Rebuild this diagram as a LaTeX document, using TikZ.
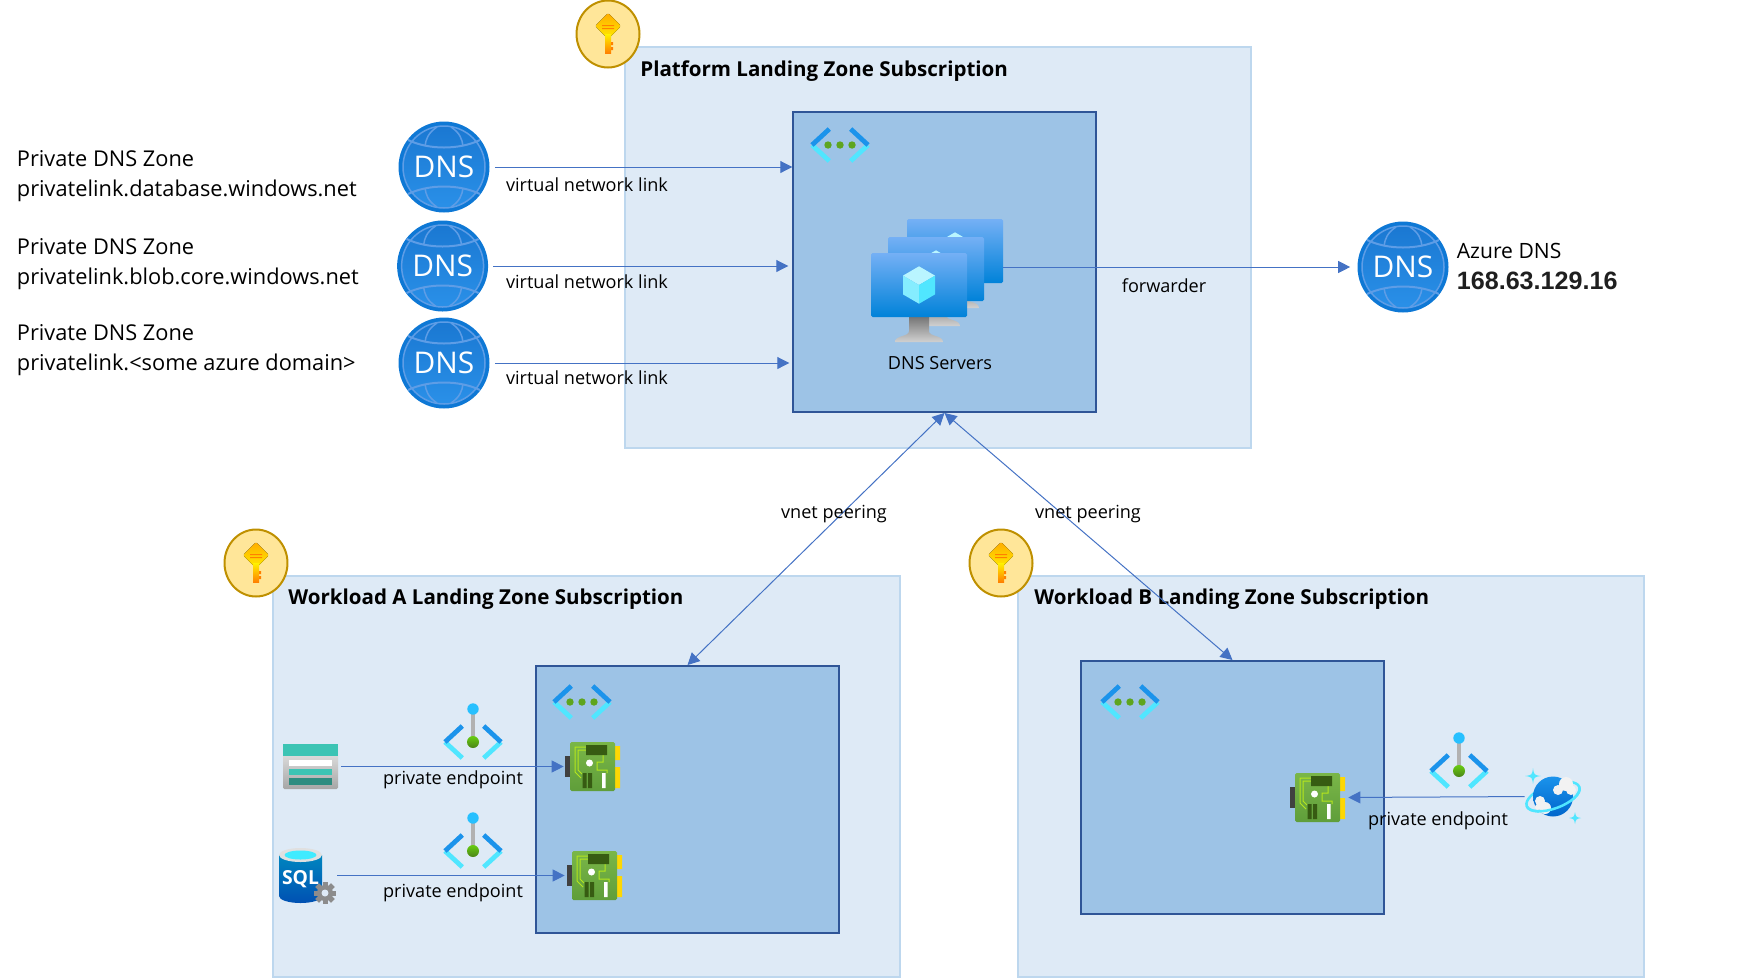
\documentclass[tikz,border=0pt]{standalone}
\usepackage{fontspec}
\setmainfont{Open Sans}
\newfontfamily\arialfont{Liberation Sans}
\usetikzlibrary{arrows.meta}
\usetikzlibrary{shapes.geometric}

\definecolor{zonefill}{HTML}{DEEAF6}
\definecolor{zoneline}{HTML}{BDD7EE}
\definecolor{vnetfill}{HTML}{9DC3E6}
\definecolor{vnetline}{HTML}{2F5597}
\definecolor{linkblue}{HTML}{4472C4}
\definecolor{azdark}{HTML}{1B93EB}
\definecolor{azlight}{HTML}{50E6FF}
\definecolor{azgreen}{HTML}{5EA51E}
\definecolor{keyfill}{HTML}{FFE699}
\definecolor{keyline}{HTML}{BF9000}
\definecolor{globering}{HTML}{0E78D5}
\definecolor{globetop}{HTML}{1A78D2}
\definecolor{globelow}{HTML}{2A90E8}
\definecolor{globeline}{HTML}{5E9DE6}
\definecolor{cardtop}{HTML}{7AB648}
\definecolor{cardlow}{HTML}{5F9E3A}
\definecolor{carddark}{HTML}{375C12}
\definecolor{cardtrace}{HTML}{B5E61D}
\definecolor{tealmid}{HTML}{3CC4B4}
\definecolor{tealdark}{HTML}{2D8C80}

% subscription key
\newcommand{\subkey}[3]{
 \begin{scope}[shift={(#2,#3)}]
  \node at (0,0) [ellipse,draw=keyline,line width=0.04cm,fill=keyfill,
   minimum width=1.26cm,minimum height=1.34cm,inner sep=0] (#1) {};
  \fill[rounded corners=0.04cm,top color=orange!65!yellow,bottom color=yellow!85!orange]
   (0,-21) -- (13,-8) -- (0,5) -- (-13,-8) -- cycle;
  \fill[top color=yellow!90!orange,bottom color=orange] (-3,0) rectangle (3,19);
  \fill[orange] (3,8) rectangle (5,11) (3,13) rectangle (5,16);
  \fill[orange] (-6,-9) rectangle (6,-8) (-6,-6) rectangle (6,-5);
 \end{scope}
}
% chevrons round a virtual network or endpoint
\newcommand{\chevrons}{
 \draw[azlight,line width=0.095cm] (-10.7,16) -- (-28,0) (10.7,16) -- (28,0);
 \draw[azdark,line width=0.095cm] (-10.7,-16) -- (-28,0) (10.7,-16) -- (28,0);
}
\newcommand{\vneticon}[2]{
 \begin{scope}[shift={(#1,#2)}]
  \chevrons
  \fill[azgreen] (-12,0) circle (3.7) (0,0) circle (3.7) (12,0) circle (3.7);
 \end{scope}
}
\newcommand{\peicon}[2]{
 \begin{scope}[shift={(#1,#2)}]
  \chevrons
  \fill[black!30] (-2,-33) rectangle (2,0);
  \fill[azlight!60!cyan!80!blue] (0,-33) circle (5.7);
  \shade[top color=azgreen!70!green!80!yellow,bottom color=azgreen!80!black] (0,0) circle (6);
 \end{scope}
}
% dns globe
\newcommand{\dnszone}[3]{
 \begin{scope}[shift={(#2,#3)}]
  \fill[globering] (0,0) circle (45.5);
  \shade[top color=globetop,bottom color=globelow] (0,0) circle (41);
  \draw[globeline,line width=0.03cm] (0,0) circle (41);
  \foreach \s in {-1,1} {
   \draw[globeline,line width=0.04cm] (-36,\s*27) .. controls (-15,\s*17) and (15,\s*17) .. (36,\s*27);
   \draw[globeline,line width=0.03cm] (-7,\s*40) .. controls (-16,\s*34) and (-18,\s*28) .. (-19,\s*21);
   \draw[globeline,line width=0.03cm] (7,\s*40) .. controls (16,\s*34) and (18,\s*28) .. (19,\s*21);
  }
  \node at (0,0) [circle,minimum size=1.82cm,inner sep=0,text=white,font=\fontsize{17}{19}\selectfont] (#1) {DNS};
 \end{scope}
}
% one screen of the dns servers
\newcommand{\vmscreen}[3]{
 \begin{scope}[shift={(#2,#3)}]
  \shade[top color=black!55,bottom color=black!18]
   (38,63) -- (58,63) -- (58,78) .. controls (58,84) and (72,82) .. (72,89) -- (24,89) .. controls (24,82) and (38,84) .. (38,78) -- cycle;
  \node at (48,32) [rectangle,rounded corners=0.03cm,minimum width=1.92cm,minimum height=1.28cm,inner sep=0,
   top color=azdark!55!white!90!blue,bottom color=blue!40!cyan!85!black] (#1) {};
  \fill[azlight!40!white] (48,13.3) -- (64,22.6) -- (48,32) -- (32,22.6) -- cycle;
  \fill[azlight!70!white] (32,22.6) -- (48,32) -- (48,50.7) -- (32,41.4) -- cycle;
  \fill[azlight] (64,22.6) -- (48,32) -- (48,50.7) -- (64,41.4) -- cycle;
 \end{scope}
}
% network card
\newcommand{\nic}[3]{
 \begin{scope}[shift={(#2,#3)}]
  \fill[black!75] (-5,14) rectangle (0,35);
  \fill[yellow!75!orange] (45,4) rectangle (50,18) (45,25) rectangle (50,46);
  \node at (22.5,24.5) [rectangle,rounded corners=0.03cm,minimum width=0.9cm,minimum height=0.98cm,inner sep=0,
   top color=cardtop,bottom color=cardlow] (#1) {};
  \draw[cardtrace,line width=0.02cm] (16,5) -- (5,5) -- (5,30) -- (11,36) (16,8) -- (8,8) -- (8,28) -- (12,32)
   (33,13) -- (33,20) -- (27,20) -- (27,28) -- (37,28) -- (37,31);
  \fill[carddark] (16,3) rectangle (37,13) (12.5,31) rectangle (16.5,46) (18,31) rectangle (22,46);
  \fill[white] (19.5,21) circle (3.5) (32,31) rectangle (35.5,46);
 \end{scope}
}
\newcommand{\sparkle}[3]{
 \fill[azlight] (#1,#2-#3) .. controls (#1+1,#2-1) and (#1+1,#2-1) .. (#1+#3,#2)
  .. controls (#1+1,#2+1) and (#1+1,#2+1) .. (#1,#2+#3)
  .. controls (#1-1,#2+1) and (#1-1,#2+1) .. (#1-#3,#2)
  .. controls (#1-1,#2-1) and (#1-1,#2-1) .. (#1,#2-#3) -- cycle;
}

\begin{document}
\begin{tikzpicture}[
 x=0.02cm,
 y=-0.02cm,
 >={Triangle[length=0.24cm,width=0.24cm]},
 zone/.style={
  rectangle,
  draw=zoneline,
  fill=zonefill,
  line width=0.04cm,
  inner sep=0,
  minimum width=12.54cm,
  minimum height=8.02cm,
 },
 vnet/.style={
  rectangle,
  draw=vnetline,
  fill=vnetfill,
  line width=0.04cm,
  inner sep=0,
 },
 title/.style={
  anchor=west,
  inner sep=0,
  font=\fontsize{11.7}{15}\selectfont\bfseries,
 },
 lbl/.style={
  inner sep=0,
  font=\fontsize{10.3}{12}\selectfont,
 },
 zonetext/.style={
  anchor=west,
  inner sep=0,
  align=left,
  font=\fontsize{12.4}{17.2}\selectfont,
 },
 netlink/.style={
  ->,
  draw=linkblue,
  line width=0.02cm,
 },
 peer/.style={
  <->,
  draw=linkblue,
  line width=0.02cm,
 },
]
\useasboundingbox (0,0) rectangle (1753,978);

\node at (938,247.5) [zone] (platform) {};
\node at (586.5,776.5) [zone] (workloada) {};
\node at (1331,776.5) [zone] (workloadb) {};

\node at (944.5,262) [vnet,minimum width=6.05cm,minimum height=6cm] (vnetplat) {};
\node at (687.5,799.5) [vnet,minimum width=6.06cm,minimum height=5.34cm] (vneta) {};
\node at (1232.5,787.5) [vnet,minimum width=6.06cm,minimum height=5.06cm] (vnetb) {};

\subkey{keyplat}{608}{34}
\subkey{keya}{256}{563}
\subkey{keyb}{1001}{563}

\node at (640,71) [title] (titleplat) {Platform Landing Zone Subscription};
\node at (288,599) [title] (titlea) {Workload A Landing Zone Subscription};
\node at (1034,599) [title] (titleb) {Workload B Landing Zone Subscription};

\vneticon{840}{145}
\vneticon{582}{702}
\vneticon{1130}{702}

% private dns zones
\node at (16.6,176) [zonetext] (textdb) {Private DNS Zone\\privatelink.database.windows.net};
\node at (16.6,264) [zonetext] (textblob) {Private DNS Zone\\privatelink.blob.core.windows.net};
\node at (16.6,350) [zonetext] (textother) {Private DNS Zone\\privatelink.<some azure domain>};

\dnszone{dnsdb}{444}{167}
\dnszone{dnsblob}{442.6}{266}
\dnszone{dnsother}{444}{363}
\dnszone{azuredns}{1403}{267}

\draw[netlink,shorten <=0.1cm] (dnsdb.east) -- (vnetplat.west |- dnsdb.east);
\draw[netlink,shorten <=0.1cm,shorten >=0.08cm] (dnsblob.east) -- (vnetplat.west |- dnsblob.east);
\draw[netlink,shorten <=0.1cm,shorten >=0.06cm] (dnsother.east) -- (vnetplat.west |- dnsother.east);

\node at (587,185) [lbl] (linkdb) {virtual network link};
\node at (587,281.5) [lbl] (linkblob) {virtual network link};
\node at (587,377.5) [lbl] (linkother) {virtual network link};

% dns servers
\vmscreen{vmback}{907}{219}
\vmscreen{vmmid}{888}{237}
\vmscreen{vmfront}{871}{253}
\node at (940,363) [lbl] (vmtext) {DNS Servers};

\draw[netlink,shorten >=0.14cm] (vmback.east |- azuredns.west) -- (azuredns.west);
\node at (1164,286) [lbl] (fwdtext) {forwarder};

\node at (1456.5,251) [anchor=west,inner sep=0,font=\fontsize{12}{14}\selectfont] (azuretext) {Azure DNS};
\node at (1456.5,281) [anchor=west,inner sep=0,text=black!88,font=\arialfont\fontsize{14.3}{16}\selectfont\bfseries] (azureip) {168.63.129.16};

% vnet peering
\draw[peer] (vneta.north) -- (vnetplat.south);
\draw[peer] (vnetb.north) -- (vnetplat.south);
\node at (834,514) [lbl] (peertexta) {vnet peering};
\node at (1088,514) [lbl] (peertextb) {vnet peering};

% workload a
\node at (310.5,766.5) [rectangle,minimum width=1.1cm,minimum height=0.9cm,inner sep=0,rounded corners=0.03cm,
 top color=black!8,bottom color=black!35] (storage) {};
\fill[tealmid] (283,744) rectangle (338,756);
\fill[white] (289,760) rectangle (332,766);
\fill[tealmid] (289,769) rectangle (332,775);
\fill[tealdark] (289,778) rectangle (332,785);

\node at (300.5,875.5) [rectangle,minimum width=0.86cm,minimum height=1.1cm,inner sep=0] (sqldb) {};
\shade[top color=blue!30!cyan!75!black,bottom color=blue!55!cyan!70!black]
 (279,855) -- (279,896) arc (180:0:21.5 and 7) -- (322,855) -- cycle;
\fill[black!12] (300.5,855) ellipse (21.5 and 7);
\fill[azlight!80!cyan] (300.5,855) ellipse (16 and 4.5);
\node at (300.5,879) [inner sep=0,text=white,font=\fontsize{11}{14}\selectfont\bfseries] (sqltext) {SQL};
\fill[black!45] (325,893) circle (8);
\foreach \a in {0,45,...,315} {
 \fill[black!45,rotate around={\a:(325,893)}] (322.5,882) rectangle (327.5,904);
}
\fill[zonefill] (325,893) circle (3.5);

\peicon{473}{742}
\peicon{473}{851}
\nic{nica}{570}{742}
\nic{nicb}{572}{851}
\draw[netlink,shorten <=0.06cm,shorten >=0.12cm] (storage.east) -- (nica.west);
\draw[netlink,shorten <=0.3cm,shorten >=0.14cm] (sqldb.east) -- (nicb.west);
\node at (453,780) [lbl] (petexta) {private endpoint};
\node at (453,893) [lbl] (petextb) {private endpoint};

% workload b
\peicon{1459}{771}
\nic{nicc}{1295}{773}
\draw[azlight,line width=0.05cm,rotate around={20:(1553,796.5)}] (1553,796.5) ellipse (28 and 12);
\node at (1553,796.5) [circle,minimum size=0.8cm,inner sep=0,
 top color=azdark,bottom color=blue!50!cyan!80!black] (cosmos) {};
\fill[black!5] (1566,784) circle (7) (1558,790) circle (5) (1571,790) circle (5);
\fill[black!5] (1540,801) circle (5) (1545,808) circle (6) (1538,807) circle (3);
\draw[azlight,line width=0.05cm,rotate around={20:(1553,796.5)}] (1525,796.5) arc (180:0:28 and 12);
\sparkle{1533}{776}{8}
\sparkle{1575}{818}{6}
\draw[netlink,shorten <=0.16cm,shorten >=0.16cm] (cosmos.west) -- (nicc.east);
\node at (1438,820.5) [lbl] (petextc) {private endpoint};

\end{tikzpicture}
\end{document}
